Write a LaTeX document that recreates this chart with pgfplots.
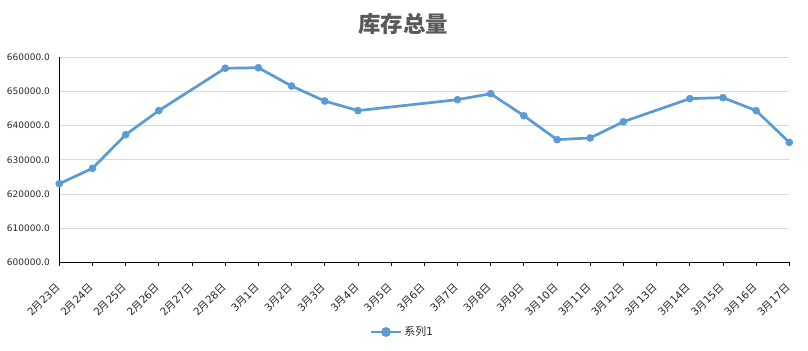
\documentclass[border=0pt]{standalone}
\usepackage{fontspec}
\setmainfont{DejaVu Sans}
\newfontfamily\cjk{Noto Sans CJK SC}
\usepackage{pgfplots}
\pgfplotsset{compat=1.18}
\definecolor{lineblue}{RGB}{91,155,213}
\definecolor{gridgray}{RGB}{217,217,217}
\definecolor{txtgray}{RGB}{40,40,40}
\definecolor{titlegray}{RGB}{89,89,89}
\newcommand\md[2]{#1{\cjk 月}#2{\cjk 日}}
\begin{document}
\begin{tikzpicture}
\useasboundingbox (-59.3bp,-88.7bp) rectangle (748.7bp,262.3bp);
\begin{axis}[
  at={(0,0)}, anchor=south west,
  scale only axis, width=730bp, height=205bp,
  xmin=0, xmax=22, ymin=600000, ymax=660000,
  clip=false,
  axis lines=left,
  axis line style={-, black, line width=0.8bp},
  ytick={600000,610000,620000,630000,640000,650000,660000},
  xtick={0,...,22},
  xticklabels={\md{2}{23},\md{2}{24},\md{2}{25},\md{2}{26},\md{2}{27},\md{2}{28},
    \md{3}{1},\md{3}{2},\md{3}{3},\md{3}{4},\md{3}{5},\md{3}{6},\md{3}{7},\md{3}{8},
    \md{3}{9},\md{3}{10},\md{3}{11},\md{3}{12},\md{3}{13},\md{3}{14},\md{3}{15},
    \md{3}{16},\md{3}{17}},
  xticklabel style={xshift=-1bp, yshift=-19bp, rotate=45, anchor=east,
    font=\fontsize{10.5}{12}\selectfont, text=txtgray, inner sep=0pt},
  yticklabel style={font=\fontsize{9}{11}\selectfont, text=txtgray, xshift=-2bp,
    /pgf/number format/fixed, /pgf/number format/fixed zerofill,
    /pgf/number format/precision=1, /pgf/number format/1000 sep={},
    /pgf/number format/assume math mode=true},
  scaled y ticks=false,
  ytick style={draw=none},
  xtick style={black, line width=0.8bp},
  tick align=outside,
  major tick length=4bp,
  ymajorgrids,
  grid style={gridgray, line width=0.8bp},
  title={\cjk\bfseries 库存总量},
  title style={at={(0.471,1)}, anchor=center, yshift=27bp,
    font=\fontsize{22.5}{26}\selectfont, text=titlegray},
  legend style={draw=none, fill=none, at={(0.47,-0.34)}, anchor=center,
    font=\fontsize{11}{13}\selectfont, text=txtgray},
  legend image code/.code={
    \draw[lineblue, line width=2.7bp] (0bp,0bp) -- (30bp,0bp);
    \fill[lineblue] (15bp,0bp) circle (3.5bp);},
]
\addplot[lineblue, line width=2.7bp, mark=*, mark size=3.6bp,
  mark options={fill=lineblue, draw=lineblue, line width=0.4bp}] coordinates {
  (0,623000) (1,627500) (2,637350) (3,644400) (5,656800) (6,656950)
  (7,651600) (8,647200) (9,644400) (12,647600) (13,649350) (14,642900)
  (15,635900) (16,636400) (17,641150) (19,647900) (20,648200) (21,644400)
  (22,635100)};
\addlegendentry{{\cjk 系列}1}
\end{axis}
\end{tikzpicture}
\end{document}
